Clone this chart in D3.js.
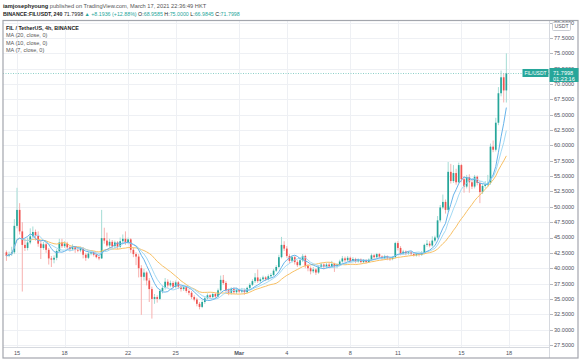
<!DOCTYPE html>
<html>
<head>
<meta charset="utf-8">
<script src="https://cdn.jsdelivr.net/npm/d3@7"></script>
<style>
  html, body { margin: 0; padding: 0; background: #fff; }
  svg { display: block; font-family: "Liberation Sans", Arial, sans-serif; }
</style>
</head>
<body>
<svg id="chart" width="581" height="363"></svg>
<script>
// 4h candles, FIL/USDT on Binance, first candle Feb 14 08:00
const startTime = Date.UTC(2021, 1, 14, 8);
const candleMs = 4 * 3600 * 1000;
const firstOpen = 42.6;

const closes = [
  42.0, 42.3, 42.6, 46.9, 49.5, 46.0, 43.8, 43.3, 44.2, 45.2,
  45.9, 45.3, 44.0, 43.3, 43.9, 43.0, 41.6, 41.4, 41.7, 42.8,
  44.2, 43.6, 44.0, 43.4, 43.1, 43.4, 43.0, 42.9, 43.2, 42.2,
  41.7, 42.4, 42.6, 42.2, 41.8, 41.6, 44.9, 44.5, 43.7, 44.3,
  43.6, 44.2, 43.5, 44.4, 44.8, 44.2, 44.7, 43.0, 42.3, 41.9,
  40.0, 38.6, 39.3, 38.0, 36.6, 35.0, 35.3, 35.0, 36.3, 36.8,
  37.8, 37.2, 37.6, 37.0, 37.7, 37.0, 36.6, 36.9, 36.3, 36.0,
  35.3, 34.9, 34.2, 33.7, 34.5, 35.1, 35.6, 35.3, 35.8, 35.4,
  36.4, 38.1, 37.6, 36.4, 36.0, 36.6, 36.1, 36.5, 36.2, 36.4,
  36.1, 36.8, 37.3, 37.9, 38.5, 37.9, 38.2, 38.5, 38.2, 38.7,
  38.9, 39.6, 40.2, 41.8, 43.8, 43.2, 42.0, 41.2, 41.8, 41.0,
  40.5, 41.3, 42.0, 40.4, 40.0, 39.5, 39.8, 39.3, 40.2, 40.6,
  40.2, 40.6, 40.3, 40.7, 40.3, 40.6, 41.1, 41.6, 41.3, 41.7,
  41.2, 41.5, 41.1, 41.4, 41.0, 41.3, 41.0, 41.4, 42.1, 41.8,
  42.3, 41.9, 41.6, 41.9, 41.6, 41.5, 41.8, 44.1, 43.3, 42.4,
  42.7, 42.4, 42.6, 42.3, 42.1, 42.3, 42.2, 42.5, 43.8, 44.0,
  43.7, 44.5, 45.0, 47.8, 49.9, 50.8, 49.5, 55.7, 54.2, 55.5,
  54.0, 56.8, 54.5, 53.3, 54.8, 54.0, 53.3, 54.9, 53.9, 52.4,
  53.4, 53.6, 53.9, 59.8, 59.3, 63.7, 68.5, 71.1, 68.96, 71.7998
];
const highs = [
  42.9, 42.7, 43.5, 48.0, 53.1, 50.6, 47.5, 44.8, 45.0, 46.5,
  46.8, 46.3, 46.0, 44.5, 44.3, 44.2, 43.3, 42.0, 42.1, 43.1,
  44.8, 44.8, 44.4, 44.3, 43.7, 43.9, 43.6, 43.4, 43.5, 43.4,
  42.5, 42.7, 42.9, 42.8, 42.4, 42.0, 49.5, 46.6, 45.8, 44.8,
  44.6, 44.5, 44.4, 45.0, 45.5, 46.0, 45.0, 44.9, 43.4, 42.6,
  42.3, 40.5, 39.9, 39.5, 38.4, 37.0, 35.8, 35.6, 36.6, 37.2,
  38.4, 38.2, 38.0, 37.9, 38.0, 37.9, 37.2, 37.2, 37.1, 36.6,
  36.3, 35.6, 35.2, 34.5, 34.8, 35.4, 35.9, 35.8, 36.1, 36.0,
  36.7, 38.8, 38.9, 37.9, 36.7, 36.9, 36.9, 36.8, 36.7, 36.8,
  36.7, 37.0, 37.6, 38.2, 39.2, 39.8, 38.5, 38.8, 38.7, 39.0,
  39.2, 39.9, 40.5, 42.2, 45.1, 44.4, 43.6, 42.3, 42.1, 42.0,
  41.3, 41.6, 42.3, 42.2, 40.7, 40.3, 40.2, 40.0, 40.5, 40.9,
  40.8, 40.9, 41.0, 41.2, 40.9, 40.8, 41.4, 42.0, 41.9, 42.0,
  41.9, 41.8, 41.7, 41.6, 41.6, 41.5, 41.5, 41.6, 42.4, 42.3,
  42.5, 42.5, 42.1, 42.2, 42.1, 41.8, 42.0, 44.3, 44.4, 43.6,
  43.0, 42.9, 42.8, 42.8, 42.5, 42.6, 42.5, 42.8, 44.0, 44.6,
  44.4, 45.2, 45.3, 48.5, 50.3, 52.0, 51.2, 57.3, 57.0, 56.8,
  56.2, 57.2, 57.0, 55.0, 55.2, 55.3, 54.4, 55.2, 55.1, 54.2,
  53.8, 54.2, 55.2, 60.3, 60.8, 64.5, 69.5, 72.2, 71.8, 75.0
];
const lows = [
  41.2, 41.8, 42.0, 42.3, 46.5, 45.5, 36.2, 42.8, 42.9, 43.9,
  45.0, 44.5, 43.5, 41.5, 43.0, 42.5, 40.6, 40.2, 40.8, 41.3,
  42.6, 43.3, 43.3, 43.0, 42.7, 42.9, 42.5, 42.6, 42.6, 41.6,
  41.2, 41.5, 42.1, 41.9, 41.6, 41.3, 41.5, 44.0, 43.5, 43.3,
  43.2, 43.2, 43.1, 43.3, 44.0, 43.8, 43.9, 42.5, 41.8, 40.5,
  38.5, 32.4, 38.0, 37.2, 34.5, 31.8, 34.2, 34.4, 34.8, 35.9,
  36.5, 36.8, 36.9, 36.7, 36.7, 36.6, 36.2, 36.3, 36.0, 35.6,
  35.0, 34.6, 33.8, 33.3, 33.5, 34.2, 34.9, 35.0, 35.1, 35.1,
  35.2, 36.2, 37.3, 36.0, 35.6, 35.7, 35.8, 35.8, 35.9, 35.9,
  35.7, 35.9, 36.6, 37.1, 37.6, 37.6, 37.6, 38.0, 37.9, 38.0,
  38.4, 38.7, 39.4, 40.0, 41.6, 42.8, 41.7, 40.8, 40.9, 40.6,
  40.2, 40.3, 41.0, 40.0, 39.5, 39.0, 39.2, 38.9, 39.1, 40.0,
  39.8, 40.0, 40.0, 40.1, 39.4, 40.0, 40.4, 40.9, 41.0, 41.1,
  40.9, 41.0, 40.8, 40.9, 40.8, 40.8, 40.8, 40.9, 41.2, 41.5,
  41.6, 41.6, 41.3, 41.4, 41.3, 41.2, 41.3, 41.6, 42.9, 42.1,
  42.2, 42.1, 42.2, 42.0, 41.9, 41.9, 41.9, 42.0, 42.3, 43.5,
  43.4, 43.5, 44.2, 44.8, 47.5, 49.6, 48.9, 49.2, 53.8, 53.9,
  53.6, 53.8, 54.0, 52.3, 53.0, 52.3, 52.9, 53.0, 53.5, 50.6,
  52.1, 53.1, 53.3, 53.6, 58.9, 59.0, 63.3, 68.0, 67.0, 66.9845
];

const priceTicks = [27.5, 30, 32.5, 35, 37.5, 40, 42.5, 45, 47.5, 50, 52.5, 55,
  57.5, 60, 62.5, 65, 67.5, 70, 72.5, 75, 77.5, 80];
const dateTicks = [
  Date.UTC(2021, 1, 15), Date.UTC(2021, 1, 18), Date.UTC(2021, 1, 22), Date.UTC(2021, 1, 25),
  Date.UTC(2021, 2, 1), Date.UTC(2021, 2, 4), Date.UTC(2021, 2, 8), Date.UTC(2021, 2, 11),
  Date.UTC(2021, 2, 15), Date.UTC(2021, 2, 18)
];
const dateLabels = ["15", "18", "22", "25", "Mar", "4", "8", "11", "15", "18"];

const maPeriods = [20, 10, 7];
const maColors = ["#f8c064", "#a3daf4", "#66b3ea"];
const legendLines = ["MA (20, close, 0)", "MA (10, close, 0)", "MA (7, close, 0)"];

const lastPrice = 71.7998;

const svg = d3.select('#chart');
const plot = { left: 3, top: 20, right: 549, bottom: 347 };
const green = '#26a69a', red = '#ef5350';

const candles = closes.map((c, i) => ({
  t: startTime + i * candleMs,
  o: i === 0 ? firstOpen : closes[i - 1],
  h: highs[i],
  l: lows[i],
  c: c
}));

const x = d3.scaleUtc()
  .domain([Date.UTC(2021, 1, 15), Date.UTC(2021, 2, 18)])
  .range([17, 509]);

const y = d3.scaleLinear()
  .domain([27.17, 80.43])
  .range([plot.bottom, plot.top]);

svg.append('defs').append('clipPath')
  .attr('id', 'plot-area')
  .append('rect')
  .attr('x', plot.left)
  .attr('y', plot.top)
  .attr('width', plot.right - plot.left)
  .attr('height', plot.bottom - plot.top);

// grid
svg.append('g')
  .selectAll('line')
  .data(priceTicks)
  .join('line')
  .attr('x1', plot.left).attr('x2', plot.right)
  .attr('y1', d => Math.round(y(d)) + 0.5).attr('y2', d => Math.round(y(d)) + 0.5)
  .attr('stroke', '#eef0f4');

svg.append('g')
  .selectAll('line')
  .data(dateTicks)
  .join('line')
  .attr('x1', d => Math.round(x(d)) + 0.5).attr('x2', d => Math.round(x(d)) + 0.5)
  .attr('y1', plot.top).attr('y2', plot.bottom)
  .attr('stroke', '#eef0f4');

const chartArea = svg.append('g').attr('clip-path', 'url(#plot-area)');

// wicks
chartArea.append('g')
  .selectAll('line')
  .data(candles)
  .join('line')
  .attr('x1', d => x(d.t)).attr('x2', d => x(d.t))
  .attr('y1', d => y(d.h)).attr('y2', d => y(d.l))
  .attr('stroke', d => d.c >= d.o ? '#a5dcd5' : '#f7b1af')
  .attr('stroke-width', 1);

// bodies
chartArea.append('g')
  .selectAll('rect')
  .data(candles)
  .join('rect')
  .attr('x', d => x(d.t) - 0.85)
  .attr('width', 1.7)
  .attr('y', d => y(Math.max(d.o, d.c)))
  .attr('height', d => Math.max(0.8, Math.abs(y(d.o) - y(d.c))))
  .attr('fill', d => d.c >= d.o ? green : red);

// moving averages
maPeriods.forEach((n, k) => {
  const ma = candles.map((d, i) => {
    const from = Math.max(0, i - n + 1);
    return { t: d.t, v: d3.mean(closes.slice(from, i + 1)) };
  });
  chartArea.append('path')
    .datum(ma)
    .attr('fill', 'none')
    .attr('stroke', maColors[k])
    .attr('stroke-width', 1)
    .attr('d', d3.line().x(d => x(d.t)).y(d => y(d.v)));
});

// last price line
chartArea.append('line')
  .attr('x1', plot.left).attr('x2', plot.right)
  .attr('y1', Math.round(y(lastPrice)) + 0.5).attr('y2', Math.round(y(lastPrice)) + 0.5)
  .attr('stroke', '#8fd1c8')
  .attr('stroke-dasharray', '1,1.5');

// separators and frame
svg.append('line')
  .attr('x1', plot.right + 0.5).attr('x2', plot.right + 0.5)
  .attr('y1', plot.top).attr('y2', 358)
  .attr('stroke', '#d6d9df');
svg.append('line')
  .attr('x1', plot.left).attr('x2', plot.right)
  .attr('y1', plot.bottom + 0.5).attr('y2', plot.bottom + 0.5)
  .attr('stroke', '#d6d9df');
svg.append('rect')
  .attr('x', 3).attr('y', 20.5)
  .attr('width', 575).attr('height', 337.5)
  .attr('fill', 'none')
  .attr('stroke', '#a3a6ad')
  .attr('stroke-width', 1.2);

// price axis
const yAxis = svg.append('g');
yAxis.selectAll('line')
  .data(priceTicks)
  .join('line')
  .attr('x1', plot.right + 1).attr('x2', plot.right + 4)
  .attr('y1', d => Math.round(y(d)) + 0.5).attr('y2', d => Math.round(y(d)) + 0.5)
  .attr('stroke', '#b5b8bf');
yAxis.selectAll('text')
  .data(priceTicks)
  .join('text')
  .attr('x', 554)
  .attr('y', d => y(d))
  .attr('dy', '0.35em')
  .attr('font-size', 5.6)
  .attr('fill', '#50535e')
  .text(d => d.toFixed(4));

// USDT unit label over the top tick
svg.append('rect')
  .attr('x', 552.5).attr('y', 22.5)
  .attr('width', 18).attr('height', 8)
  .attr('fill', '#fff')
  .attr('stroke', '#c9ccd2')
  .attr('rx', 1);
svg.append('text')
  .attr('x', 561.5).attr('y', 26.6)
  .attr('dy', '0.35em')
  .attr('text-anchor', 'middle')
  .attr('font-size', 5.2)
  .attr('fill', '#50535e')
  .text('USDT');

// last price labels
const py = y(lastPrice);
svg.append('rect')
  .attr('x', 522.5).attr('y', py - 4)
  .attr('width', 26).attr('height', 8)
  .attr('fill', green);
svg.append('text')
  .attr('x', 535.5).attr('y', py)
  .attr('dy', '0.35em')
  .attr('text-anchor', 'middle')
  .attr('font-size', 5)
  .attr('fill', '#fff')
  .text('FIL/USDT');
svg.append('rect')
  .attr('x', 549.5).attr('y', py - 5)
  .attr('width', 29).attr('height', 14)
  .attr('fill', green);
svg.append('text')
  .attr('x', 553).attr('y', py)
  .attr('dy', '0.35em')
  .attr('font-size', 5.6)
  .attr('fill', '#fff')
  .text(lastPrice.toFixed(4));
svg.append('text')
  .attr('x', 553).attr('y', py + 6)
  .attr('dy', '0.35em')
  .attr('font-size', 5.6)
  .attr('fill', '#fff')
  .text('01:23:16');

// time axis
svg.append('g')
  .selectAll('text')
  .data(dateTicks)
  .join('text')
  .attr('x', d => x(d))
  .attr('y', 353)
  .attr('dy', '0.35em')
  .attr('text-anchor', 'middle')
  .attr('font-size', 5.6)
  .attr('font-weight', (d, i) => dateLabels[i] === 'Mar' ? 'bold' : 'normal')
  .attr('fill', '#50535e')
  .text((d, i) => dateLabels[i]);

// header
const h1 = svg.append('text').attr('x', 3).attr('y', 7.5).attr('font-size', 5.7).attr('fill', '#555');
h1.append('tspan').attr('font-weight', 'bold').attr('fill', '#222').text('iamjosephyoung');
h1.append('tspan').text(' published on TradingView.com, March 17, 2021 22:36:49 HKT');

const teal = '#26a69a';
const h2 = svg.append('text').attr('x', 3).attr('y', 15.5).attr('font-size', 5.3).attr('fill', '#222');
h2.append('tspan').attr('font-weight', 'bold').text('BINANCE:FILUSDT, 240');
h2.append('tspan').text('  71.7998 ');
h2.append('tspan').attr('fill', teal).text('▲ +8.1936 (+12.88%) ');
[['O:', '68.9585'], ['H:', '75.0000'], ['L:', '66.9845'], ['C:', '71.7998']].forEach(([k, v], i) => {
  h2.append('tspan').text((i ? ' ' : '') + k);
  h2.append('tspan').attr('fill', teal).text(v);
});

// legend
svg.append('text')
  .attr('x', 6).attr('y', 28).attr('dy', '0.35em')
  .attr('font-size', 5.4).attr('font-weight', 'bold').attr('fill', '#222')
  .text('FIL / TetherUS, 4h, BINANCE');
svg.append('g')
  .selectAll('text')
  .data(legendLines)
  .join('text')
  .attr('x', 6)
  .attr('y', (d, i) => 35.5 + i * 7.5)
  .attr('dy', '0.35em')
  .attr('font-size', 5.5)
  .attr('fill', '#555')
  .text(d => d);
</script>
</body>
</html>
